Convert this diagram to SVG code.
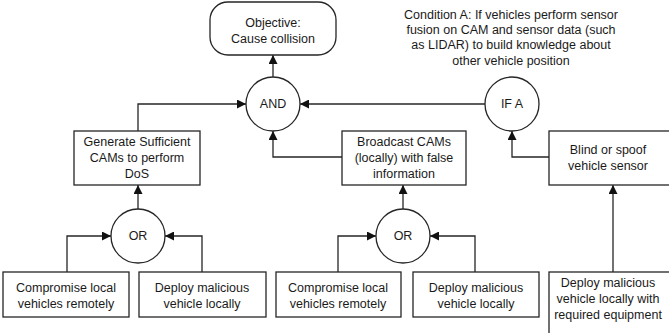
<svg xmlns="http://www.w3.org/2000/svg" width="669" height="333" viewBox="0 0 669 333">
<defs>
<style>
.box{fill:#fff;stroke:#262626;stroke-width:1.3}
.ln{fill:none;stroke:#262626;stroke-width:1.3}
text{font-family:"Liberation Sans",Arial,sans-serif;font-size:12.5px;fill:#1a1a1a;text-anchor:middle}
</style>
<marker id="ah" viewBox="0 0 10 10" refX="10" refY="5" markerWidth="9" markerHeight="9" markerUnits="userSpaceOnUse" orient="auto">
<path d="M0,0 L10,5 L0,10 z" fill="#111"/>
</marker>
</defs>
<rect width="669" height="333" fill="#fff"/>
<g id="connectors" class="ln" marker-end="url(#ah)">
<path d="M273,77 V55"/>
<path d="M138,131 V104 H246"/>
<path d="M342,157 H273 V131"/>
<path d="M485,104 H300"/>
<path d="M549,157 H512 V131"/>
<path d="M138,209 V185"/>
<path d="M67,272 V236 H111"/>
<path d="M202,272 V236 H165"/>
<path d="M403,209 V185"/>
<path d="M338,272 V236 H376"/>
<path d="M475,272 V236 H430"/>
<path d="M613,272 V185"/>
</g>
<g id="objective"><rect class="box" x="210" y="2" width="126" height="53" rx="18"/><text x="273" y="27">Objective:</text><text x="273" y="43">Cause collision</text></g>
<g id="condition"><text x="511" y="19">Condition A: If vehicles perform sensor</text><text x="511" y="34">fusion on CAM and sensor data (such</text><text x="511" y="49">as LIDAR) to build knowledge about</text><text x="511" y="65">other vehicle position</text></g>
<g id="and"><circle class="box" cx="273" cy="104" r="27"/><text x="273" y="108">AND</text></g>
<g id="ifa"><circle class="box" cx="512" cy="104" r="27"/><text x="512" y="108">IF A</text></g>
<g id="generate"><rect class="box" x="74" y="131" width="126" height="54"/><text x="137" y="146">Generate Sufficient</text><text x="137" y="162">CAMs to perform</text><text x="137" y="178">DoS</text></g>
<g id="broadcast"><rect class="box" x="342" y="131" width="124" height="54"/><text x="404" y="146">Broadcast CAMs</text><text x="404" y="162">(locally) with false</text><text x="404" y="178">information</text></g>
<g id="blind"><rect class="box" x="549" y="131" width="126" height="54"/><text x="608" y="154">Blind or spoof</text><text x="608" y="170">vehicle sensor</text></g>
<g id="or1"><circle class="box" cx="138" cy="236" r="27"/><text x="138" y="240">OR</text></g>
<g id="or2"><circle class="box" cx="403" cy="236" r="27"/><text x="403" y="240">OR</text></g>
<g id="compromise1"><rect class="box" x="3" y="272" width="126" height="45"/><text x="66" y="292">Compromise local</text><text x="66" y="308">vehicles remotely</text></g>
<g id="deploy1"><rect class="box" x="139" y="272" width="127" height="45"/><text x="202" y="292">Deploy malicious</text><text x="202" y="308">vehicle locally</text></g>
<g id="compromise2"><rect class="box" x="276" y="272" width="125" height="45"/><text x="338" y="292">Compromise local</text><text x="338" y="308">vehicles remotely</text></g>
<g id="deploy2"><rect class="box" x="413" y="272" width="126" height="45"/><text x="476" y="292">Deploy malicious</text><text x="476" y="308">vehicle locally</text></g>
<g id="deploy3"><rect class="box" x="549" y="272" width="126" height="70"/><text x="608" y="287">Deploy malicious</text><text x="608" y="303">vehicle locally with</text><text x="608" y="319">required equipment</text></g>
</svg>
